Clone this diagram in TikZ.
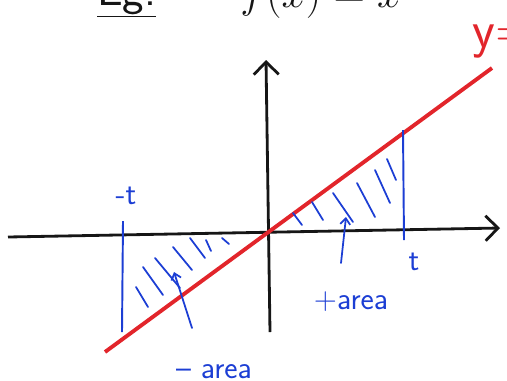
\documentclass[tikz,border=0pt]{standalone}
\usetikzlibrary{arrows.meta}
\definecolor{penink}{HTML}{161616}
\definecolor{penred}{HTML}{E2252B}
\definecolor{penblue}{HTML}{1C3ED4}

\begin{document}
\begin{tikzpicture}[x=0.02cm, y=-0.02cm, every node/.style={font=\sffamily\fontsize{18}{20}\selectfont, inner sep=0pt},
      axis/.style={draw=penink, line width=1.6pt, -{Straight Barb[length=2.5mm, width=5mm]}},
      graph/.style={draw=penred, line width=2.2pt},
      bound/.style={draw=penblue, line width=1.1pt},
      hatch/.style={draw=penblue, line width=1pt, line cap=round},
      pointer/.style={hatch, -{Straight Barb[length=1.2mm, width=2mm]}},
      lbl/.style={text=penblue}]
    \useasboundingbox (0,0) rectangle (507,380);
    \clip (0,0) rectangle (507,380);
    % title line, cut off at the top
    \node[anchor=base west, text=penink, font=\sffamily\fontsize{26}{28}\selectfont] (eg) at (97,5) {\underline{Eg:}};
    \node[anchor=base west, text=penink, font=\sffamily\fontsize{26}{28}\selectfont] (fx) at (240,7) {$f(x) = x$};
    \node[anchor=base west, text=penred, font=\sffamily\fontsize{30}{32}\selectfont] (yx) at (472,47) {y=x};
    % axes
    \coordinate (xl) at (8,237); \coordinate (xr) at (500,228);
    \coordinate (yb) at (270,332); \coordinate (yt) at (266,60);
    \draw[axis] (xl) -- (xr);
    \draw[axis] (yb) -- (yt);
    % graph of y=x
    \coordinate (gl) at (105,352); \coordinate (gr) at (492,68);
    \draw[graph] (gl) -- (gr);
    % bounds at -t and t
    \node[lbl] (mt) at (126,196) {-t};
    \node[lbl] (pt) at (414,262) {t};
    \coordinate (mtt) at (123,221); \coordinate (mtb) at (122,332);
    \coordinate (ptt) at (403,130); \coordinate (ptb) at (404,240);
    \draw[bound] (mtt) -- (mtb);
    \draw[bound] (ptt) -- (ptb);
    % hatching
    \foreach \a/\b/\c/\d in {136/287/148/307, 143/267/163/295, 155/258/180/288, 173/247/192/270, 190/238/205/258, 206/240/211/251, 222/238/229/244}
      \draw[hatch] (\a,\b) -- (\c,\d);
    \foreach \a/\b/\c/\d in {293/213/302/225, 312/202/323/220, 333/193/353/222, 357/183/375/217, 375/170/390/203, 387/159/396/180}
      \draw[hatch] (\a,\b) -- (\c,\d);
    % labels with pointers
    \node[lbl] (neg) at (214,372) {-- area};
    \node[lbl] (pos) at (351,302) {+area};
    \coordinate (negp) at (174,272); \coordinate (posp) at (346,217);
    \draw[pointer] (192,328) -- (negp);
    \draw[pointer] (341,263) -- (posp);
  \end{tikzpicture}
\end{document}
